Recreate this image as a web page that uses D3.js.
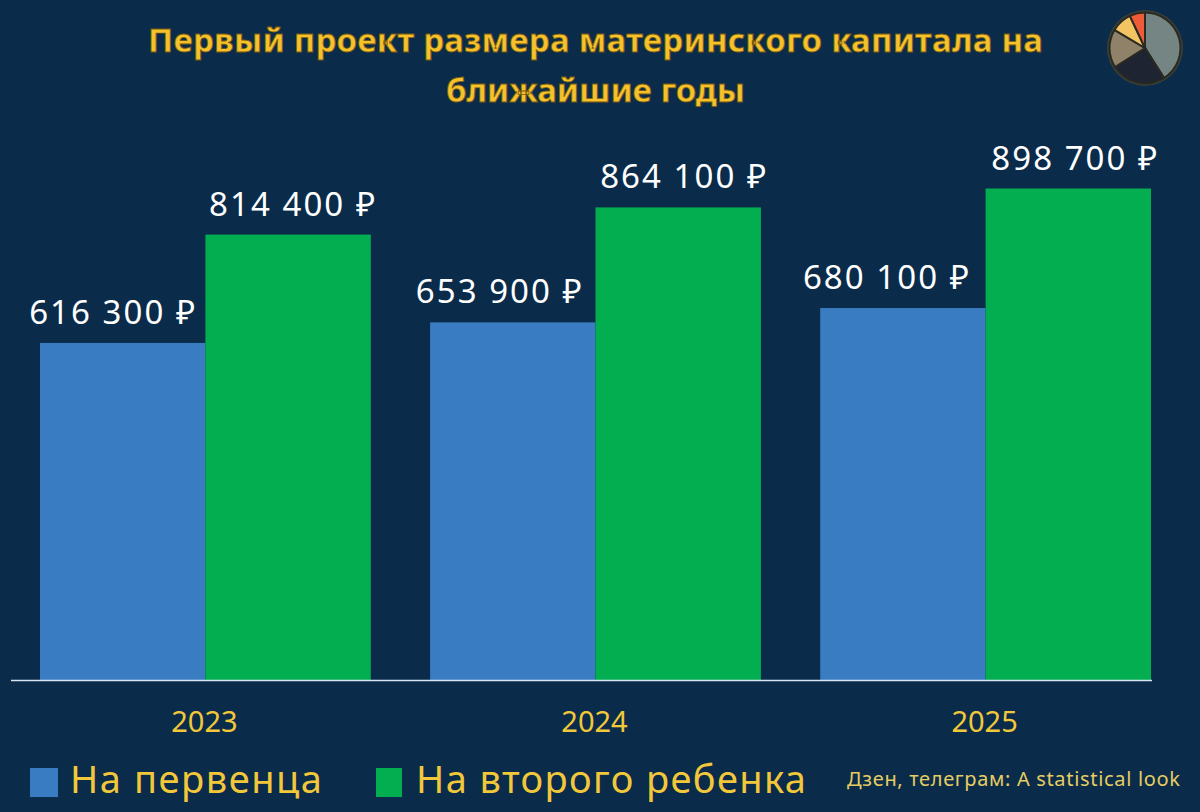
<!DOCTYPE html>
<html>
<head>
<meta charset="utf-8">
<script src="https://cdn.jsdelivr.net/npm/d3@7"></script>
<style>
  html, body { margin: 0; padding: 0; background: #0a2c4a; }
  svg { display: block; }
  text { font-family: "Noto Sans", "DejaVu Sans", sans-serif; }
</style>
</head>
<body>
<svg id="chart" width="1200" height="812"></svg>
<script>
// chart data
const years = ["2023", "2024", "2025"];
const seriesNames = ["На первенца", "На второго ребенка"];
const firstChild = [616300, 653900, 680100];
const secondChild = [814400, 864100, 898700];
const titleLines = ["Первый проект размера материнского капитала на", "ближайшие годы"];
const credit = "Дзен, телеграм: A statistical look";
const logoShares = [41, 25, 17.5, 9.5, 7];

const svg = d3.select("#chart");
const colors = ["#3a7cc2", "#02ae50"];
const gold = "#f2c83a";
const baseY = 680;

const x = d3.scaleBand().domain(years).range([40, 1151]).paddingInner(0.152);
const xSub = d3.scaleBand().domain([0, 1]).range([0, x.bandwidth()]);
const y = d3.scaleLinear().domain([0, 898700]).range([baseY, 188.5]);

// number format with a space, like 616 300 ₽
const money = d => d3.format(",")(d).replace(/,/g, " ") + " ₽";

// label nudges, the original labels are not centred on their bars
const labelShift = [[-10.5, -14, -17], [4, 5, 6]];

// bars and value labels
[firstChild, secondChild].forEach((vals, s) => {
    svg.selectAll(".bar" + s)
        .data(vals)
        .join("rect")
        .attr("x", (d, i) => x(years[i]) + xSub(s))
        .attr("y", d => y(d))
        .attr("width", xSub.bandwidth())
        .attr("height", d => baseY - y(d))
        .attr("fill", colors[s]);

    svg.selectAll(".lab" + s)
        .data(vals)
        .join("text")
        .attr("x", (d, i) => x(years[i]) + xSub(s) + xSub.bandwidth() / 2 + labelShift[s][i])
        .attr("y", d => y(d) - 19)
        .attr("text-anchor", "middle")
        .attr("fill", "#ffffff")
        .attr("font-size", 33)
        .attr("textLength", 166)
        .text(money);
});

// axis: baseline plus year labels
const axis = svg.append("g")
    .attr("transform", `translate(0,${baseY})`)
    .call(d3.axisBottom(x).tickSize(0).tickPadding(31));
axis.select(".domain").attr("d", "M11,0.5H1152").attr("stroke", "#d7e6f2").attr("stroke-width", 1.5);
axis.selectAll("text")
    .attr("fill", gold)
    .attr("font-size", 29)
    .attr("dx", -1)
    .style("font-family", '"Noto Sans", sans-serif');

// title
svg.selectAll(".title")
    .data(titleLines)
    .join("text")
    .attr("x", 595.5)
    .attr("y", (d, i) => 52 + i * 50)
    .attr("text-anchor", "middle")
    .attr("fill", "#f6c22c")
    .attr("stroke", "#7a5a10")
    .attr("stroke-width", 0.8)
    .attr("font-weight", 700)
    .attr("font-size", 33)
    .attr("textLength", (d, i) => i ? 299 : 895)
    .text(d => d);

// legend
const legendX = [30, 376];
const legendW = [28, 26];
const legendTextW = [252, 390];
seriesNames.forEach((name, s) => {
    svg.append("rect")
        .attr("x", legendX[s])
        .attr("y", 768)
        .attr("width", legendW[s])
        .attr("height", 29)
        .attr("fill", colors[s]);
    svg.append("text")
        .attr("x", legendX[s] + 40)
        .attr("y", 793)
        .attr("fill", gold)
        .attr("font-size", 38)
        .attr("textLength", legendTextW[s])
        .text(name);
});

svg.append("text")
    .attr("x", 847)
    .attr("y", 786)
    .attr("fill", "#e6cd62")
    .attr("font-size", 20)
    .attr("textLength", 333)
    .text(credit);

// little pie logo in the corner
const logoColors = ["#758583", "#1e2431", "#8f8268", "#f3c562", "#ef5a38"];
const logo = svg.append("g").attr("transform", "translate(1145,48)");
logo.append("circle").attr("r", 38).attr("fill", "#3b4038");
logo.selectAll("path")
    .data(d3.pie().sort(null)(logoShares))
    .join("path")
    .attr("d", d3.arc().innerRadius(0).outerRadius(35.5))
    .attr("fill", (d, i) => logoColors[i])
    .attr("stroke", "#2a2a22")
    .attr("stroke-width", 2);
</script>
</body>
</html>
